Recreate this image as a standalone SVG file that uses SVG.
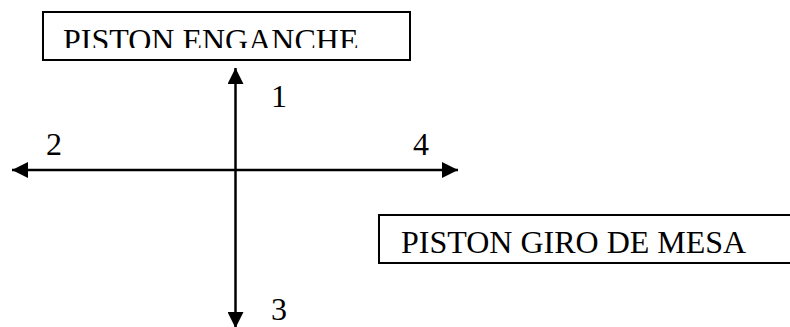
<svg xmlns="http://www.w3.org/2000/svg" width="790" height="327" viewBox="0 0 790 327">
<style>
.box{fill:#fff;stroke:#000;stroke-width:2}
.lbl{font-family:"Liberation Serif",serif;font-size:32px;fill:#000}
.ln{stroke:#000;stroke-width:2.5;fill:none}
</style>
<defs>
<marker id="ah" viewBox="0 0 16 16" refX="16" refY="8" markerWidth="16" markerHeight="16" markerUnits="userSpaceOnUse" orient="auto-start-reverse">
<path d="M0,0 L16,8 L0,16 Z" fill="#000"/>
</marker>
<clipPath id="c1"><rect x="43" y="12" width="367" height="36"/></clipPath>
<clipPath id="c2"><rect x="379" y="215" width="411" height="38"/></clipPath>
</defs>
<g id="piston-enganche">
<rect class="box" x="43" y="12" width="367" height="48"/>
<text class="lbl" x="63" y="51" clip-path="url(#c1)">PISTON ENGANCHE</text>
</g>
<g id="piston-giro">
<rect class="box" x="379" y="215" width="420" height="48"/>
<text class="lbl" x="401" y="253" clip-path="url(#c2)">PISTON GIRO DE MESA</text>
</g>
<g id="connectors">
<line class="ln" x1="235.5" y1="68" x2="235.5" y2="328" marker-start="url(#ah)" marker-end="url(#ah)"/>
<line class="ln" x1="12" y1="170" x2="458" y2="170" marker-start="url(#ah)" marker-end="url(#ah)"/>
</g>
<g id="labels">
<text class="lbl" x="271" y="107">1</text>
<text class="lbl" x="46" y="155">2</text>
<text class="lbl" x="271" y="320">3</text>
<text class="lbl" x="413" y="155">4</text>
</g>
</svg>
